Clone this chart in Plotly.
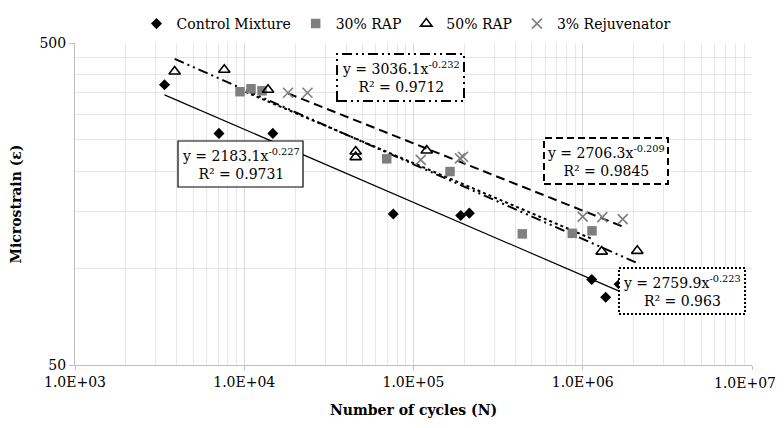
import numpy as np
import plotly.graph_objects as go

# ---------------- data ----------------
series_names = ["Control Mixture", "30% RAP", "50% RAP", "3% Rejuvenator"]

ctrl_x = [3380, 7090, 14750, 75970, 190100, 213700, 1130000, 1366000, 1640000]
ctrl_y = [371, 262, 262, 147.3, 145.6, 148.1, 92.1, 81.2, 89.1]

rap30_x = [9440, 10960, 12730, 69450, 164300, 439400, 867800, 1134000]
rap30_y = [352.9, 360.5, 355.3, 218.4, 199.4, 127.7, 128.2, 130.5]

rap50_x = [3880, 7620, 13820, 45530, 45530, 119700, 1294000, 2100000]
rap50_y = [408, 413, 357.9, 230.1, 221.1, 231.8, 112.5, 113.1]

rej_x = [18140, 23640, 110300, 188200, 196100, 1000000, 1305000, 1722000]
rej_y = [350.3, 350.3, 216.8, 219.2, 221.6, 144.5, 143.9, 141.9]

# power trendline coefficients (y = a * x^b) and R²
ctrl_fit = (2183.1, -0.227, 0.9731)
rap30_fit = (2759.9, -0.223, 0.963)
rap50_fit = (3036.1, -0.232, 0.9712)
rej_fit = (2706.3, -0.209, 0.9845)

x_tickvals = [1e3, 1e4, 1e5, 1e6, 1e7]
x_ticktext = ["1.0E+03", "1.0E+04", "1.0E+05", "1.0E+06", "1.0E+07"]
y_tickvals = [50, 500]
y_ticktext = ["50", "500"]
y_minor = [100, 150, 200, 250, 300, 350, 400, 450]
x_minor = [m * 10 ** k for k in range(3, 7) for m in range(2, 10)]

FONT = "DejaVu Serif"
FS = 14
GRAY = "#7f7f7f"

fig = go.Figure()


def trend(xs, fit, dash, width):
    a, b, _ = fit
    xf = np.logspace(np.log10(min(xs)), np.log10(max(xs)), 60)
    fig.add_trace(go.Scatter(x=xf, y=a * xf ** b, mode="lines", showlegend=False,
                             hoverinfo="skip",
                             line=dict(color="black", dash=dash, width=width)))


def lname(s):
    return f"<span style='font-family:{FONT}'>{s}</span>"


trend(ctrl_x, ctrl_fit, "solid", 1.2)
trend(rap30_x, rap30_fit, "dot", 2)
trend(rap50_x, rap50_fit, "10px,4px,2px,4px,2px,4px", 2)
trend(rej_x, rej_fit, "9px,5px", 2)

fig.add_trace(go.Scatter(x=ctrl_x, y=ctrl_y, mode="markers", name=lname(series_names[0]),
                         marker=dict(symbol="diamond", size=8.5, color="black")))
fig.add_trace(go.Scatter(x=rap30_x, y=rap30_y, mode="markers", name=lname(series_names[1]),
                         marker=dict(symbol="square", size=9.5, color=GRAY)))
fig.add_trace(go.Scatter(x=rap50_x, y=rap50_y, mode="markers", name=lname(series_names[2]),
                         marker=dict(symbol="triangle-up-open", size=10, color="black",
                                     line=dict(width=1.6, color="black"))))
fig.add_trace(go.Scatter(x=rej_x, y=rej_y, mode="markers", name=lname(series_names[3]),
                         marker=dict(symbol="x-thin-open", size=10, color=GRAY,
                                     line=dict(width=1.6, color=GRAY))))

# page has an 8px body margin: figure coords = screenshot coords - 8
OFF = 8
FW, FH = 784 - OFF, 428 - OFF
L, R, T, B = 75 - OFF, 752 - OFF, 43 - OFF, 365 - OFF
W, H = R - L, B - T


def px(x):
    return (x - OFF - L) / W


def py(y):
    return (B - (y - OFF)) / H


def eq_box(fit, x0, y0, x1, y1, dash, width):
    a, b, r2 = fit
    fig.add_shape(type="rect", xref="paper", yref="paper",
                  x0=px(x0), x1=px(x1), y0=py(y1), y1=py(y0),
                  fillcolor="white", layer="above",
                  line=dict(color="black", width=width, dash=dash))
    fig.add_annotation(xref="paper", yref="paper", x=px((x0 + x1) / 2), y=py((y0 + y1) / 2),
                       xanchor="center", yanchor="middle", showarrow=False,
                       text=f"y = {a}x<sup>{b}</sup><br>R² = {r2}",
                       font=dict(family=FONT, size=FS, color="black"))


eq_box(ctrl_fit, 178, 141, 303, 187, "solid", 1.2)
eq_box(rap50_fit, 337, 54, 464, 101, "10px,4px,2px,4px,2px,4px", 2)
eq_box(rej_fit, 544, 138, 668, 184, "7px,4px", 2)
eq_box(rap30_fit, 619, 268, 745, 314, "2px,2px", 2)

# last x tick label is placed so that it stays inside the visible page
x_ticktext_axis = x_ticktext[:-1] + [""]
fig.add_annotation(xref="paper", yref="paper", x=px(778), y=py(383), xanchor="right",
                   yanchor="middle", showarrow=False, text=x_ticktext[-1],
                   font=dict(family=FONT, size=FS, color="black"))

fig.update_layout(
    width=FW, height=FH,
    margin=dict(l=L, r=FW - R, t=T, b=FH - B, autoexpand=False),
    paper_bgcolor="white", plot_bgcolor="white",
    font=dict(family=FONT, size=FS, color="black"),
    showlegend=True,
    legend=dict(orientation="h", x=px(406), xanchor="center", y=py(OFF), yanchor="top",
                font=dict(family=FONT, size=FS, color="black"), itemwidth=30, tracegroupgap=0,
                bgcolor="rgba(0,0,0,0)"),
)

fig.update_xaxes(type="log", range=[3, 7], tickvals=x_tickvals, ticktext=x_ticktext_axis,
                 showgrid=True, gridcolor="#d9d9d9", gridwidth=1,
                 minor=dict(tickvals=x_minor, showgrid=True, gridcolor="#e6e6e6", gridwidth=1, ticks=""),
                 showline=True, linecolor="#bfbfbf", linewidth=1,
                 ticks="outside", ticklen=4, tickcolor="#bfbfbf",
                 tickfont=dict(family=FONT, size=FS),
                 title=dict(text="<b>Number of cycles (N)</b>", standoff=16,
                            font=dict(family=FONT, size=FS)),
                 zeroline=False)
fig.update_yaxes(type="log", range=[np.log10(50), np.log10(500)],
                 tickvals=y_tickvals, ticktext=y_ticktext,
                 showgrid=True, gridcolor="#d9d9d9", gridwidth=1,
                 minor=dict(tickvals=y_minor, showgrid=True, gridcolor="#e6e6e6", gridwidth=1, ticks=""),
                 showline=True, linecolor="#bfbfbf", linewidth=1,
                 ticks="outside", ticklen=5, tickcolor="#bfbfbf",
                 tickfont=dict(family=FONT, size=FS),
                 title=dict(text="<b>Microstrain (ε)</b>", standoff=14,
                            font=dict(family=FONT, size=FS)),
                 zeroline=False)

fig.write_html("out.html")
